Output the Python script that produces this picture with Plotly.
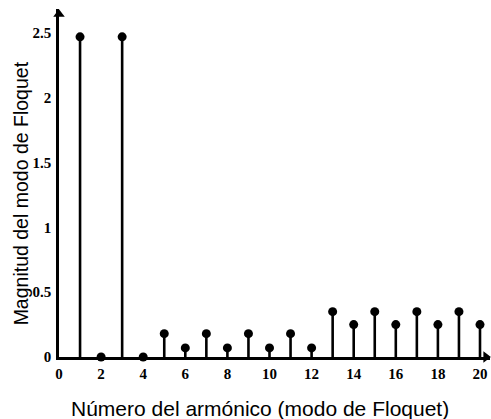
import plotly.graph_objects as go

harmonics = list(range(1, 21))
magnitudes = [2.47, 0.0, 2.47, 0.0, 0.18, 0.07, 0.18, 0.07, 0.18, 0.07,
              0.18, 0.07, 0.35, 0.25, 0.35, 0.25, 0.35, 0.25, 0.35, 0.25]
x_ticks = [0, 2, 4, 6, 8, 10, 12, 14, 16, 18, 20]
y_ticks = [0, 0.5, 1, 1.5, 2, 2.5]
y_tick_labels = ["0", "0.5", "1", "1.5", "2", "2.5"]
x_title = "Número del armónico (modo de Floquet)"
y_title = "Magnitud del modo de Floquet"

stem_x, stem_y = [], []
for h, m in zip(harmonics, magnitudes):
    stem_x += [h, h, None]
    stem_y += [0, m, None]

fig = go.Figure()
fig.add_trace(go.Scatter(x=stem_x, y=stem_y, mode="lines",
                         line=dict(color="black", width=2.6),
                         hoverinfo="skip", showlegend=False, cliponaxis=False))
fig.add_trace(go.Scatter(x=harmonics, y=magnitudes, mode="markers",
                         marker=dict(color="black", size=9),
                         showlegend=False, cliponaxis=False))
# axis arrow heads
fig.add_trace(go.Scatter(x=[20.28], y=[0], mode="markers",
                         marker=dict(symbol="triangle-right", color="black", size=10),
                         showlegend=False, cliponaxis=False, hoverinfo="skip"))
fig.add_trace(go.Scatter(x=[0], y=[2.645], mode="markers",
                         marker=dict(symbol="triangle-up", color="black", size=10),
                         showlegend=False, cliponaxis=False, hoverinfo="skip"))

tickfont = dict(family="Liberation Serif", size=15, color="black")
fig.update_layout(
    width=491, height=419,
    margin=dict(l=59, r=1, t=9, b=62),
    plot_bgcolor="white", paper_bgcolor="white",
    xaxis=dict(range=[0, 20.475], tickvals=x_ticks,
               ticktext=[f"<b>{v}</b>" for v in x_ticks],
               tickfont=tickfont, showgrid=False, zeroline=False,
               showline=True, linecolor="black", linewidth=2.5,
               ticks="", ticklabelstandoff=1),
    yaxis=dict(range=[0, 2.685], tickvals=y_ticks,
               ticktext=[f"<b>{t}</b>" for t in y_tick_labels],
               tickfont=tickfont, showgrid=False, zeroline=False,
               showline=True, linecolor="black", linewidth=2.5,
               ticks="", ticklabelstandoff=2),
    annotations=[
        dict(text=x_title, xref="paper", yref="paper", x=0.466, y=-0.147,
             xanchor="center", yanchor="middle", showarrow=False,
             font=dict(family="Liberation Sans", size=21, color="black")),
        dict(text=y_title, xref="paper", yref="paper", x=-0.086, y=0.47,
             xanchor="center", yanchor="middle", showarrow=False, textangle=-90,
             font=dict(family="Liberation Sans", size=19.5, color="black")),
    ],
)
fig.write_html(
    "out.html",
    config={"responsive": False, "displayModeBar": False},
    post_script="document.body.style.margin='0';"
                "document.documentElement.style.overflow='hidden';"
                "document.body.style.overflow='hidden';",
)
